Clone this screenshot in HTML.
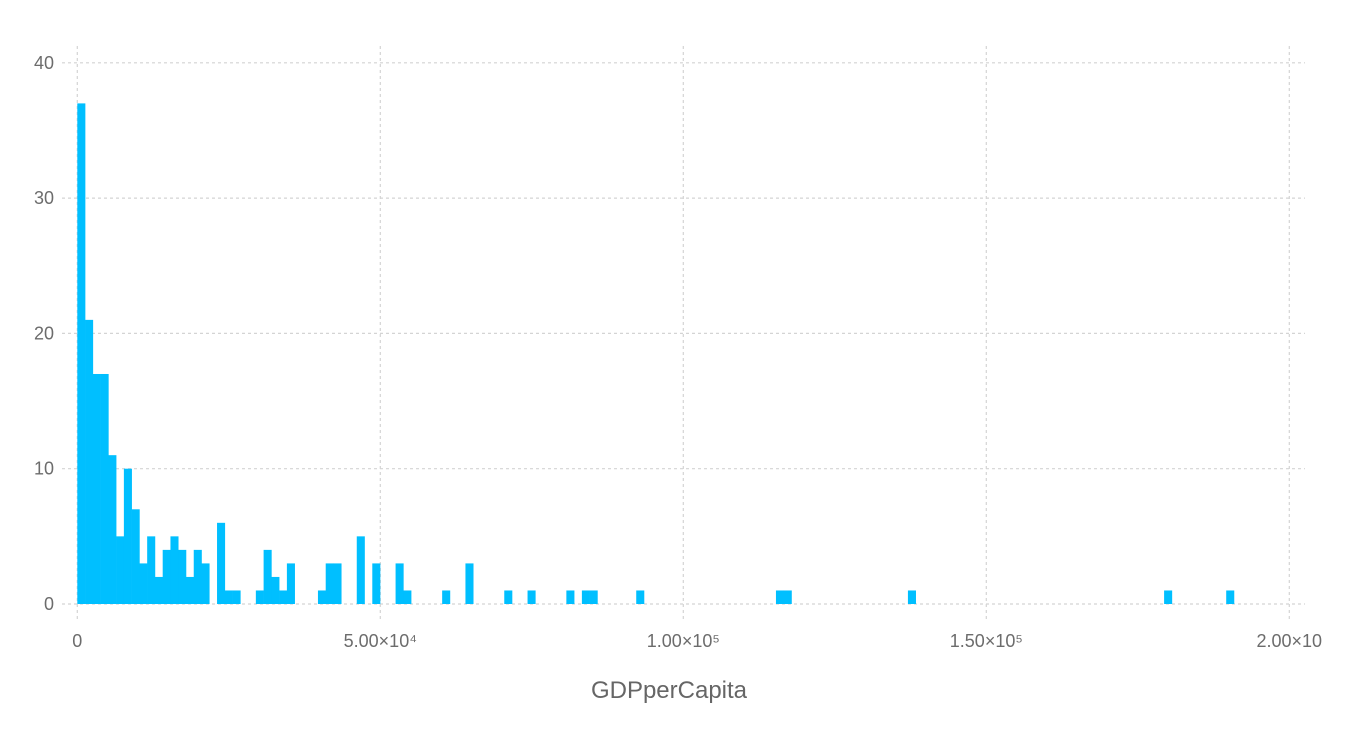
<!DOCTYPE html>
<html><head><meta charset="utf-8">
<style>
html,body{margin:0;padding:0;background:#fff;}
svg{display:block;font-family:"Liberation Sans","DejaVu Sans",sans-serif;}
</style></head>
<body>
<svg id="chart" width="1364" height="736" viewBox="0 0 1364 736" xmlns="http://www.w3.org/2000/svg">
<g id="grid"></g>
<g id="bars"></g>
<g id="axes"></g>
<text x="669" y="698" text-anchor="middle" font-size="24" fill="#666">GDPperCapita</text>
</svg>
<script>
const binWidth = 1281;
const binIndex = [0,1,2,3,4,5,6,7,8,9,10,11,12,13,14,15,16,18,19,20,23,24,25,26,27,31,32,33,36,38,41,42,47,50,55,58,63,65,66,72,90,91,107,140,148];
const binCounts = [37,21,17,17,11,5,10,7,3,5,2,4,5,4,2,4,3,6,1,1,1,4,2,1,3,1,3,3,5,3,3,1,1,3,1,1,1,1,1,1,1,1,1,1,1];
const yTicks = [0,10,20,30,40];
const xTicks = [0,50000,100000,150000,200000];
const xTickLabels = ["0","5.00×10⁴","1.00×10⁵","1.50×10⁵","2.00×10"];

const NS = "http://www.w3.org/2000/svg";
const x = v => 77.3 + v * 606.0 / 100000;
const y = v => 604 - v * 13.53;

const grid = document.getElementById('grid');
const bars = document.getElementById('bars');
const axes = document.getElementById('axes');

yTicks.forEach(t => {
  const l = document.createElementNS(NS,'line');
  
  
  l.setAttribute('x1',62); l.setAttribute('x2',1305);
  l.setAttribute('y1',y(t)); l.setAttribute('y2',y(t));
  l.setAttribute('stroke','#d4d4d4'); l.setAttribute('stroke-width','1.2');
  l.setAttribute('stroke-dasharray','3 3');
  grid.appendChild(l);
  const tx = document.createElementNS(NS,'text');
  
  
  tx.setAttribute('x',54); tx.setAttribute('y',y(t)+6);
  tx.setAttribute('text-anchor','end'); tx.setAttribute('font-size','18');
  tx.setAttribute('fill','#6c6c6c');
  tx.textContent = t;
  axes.appendChild(tx);
});
xTicks.forEach((t,i) => {
  const l = document.createElementNS(NS,'line');
  
  
  l.setAttribute('x1',x(t)); l.setAttribute('x2',x(t));
  l.setAttribute('y1',46); l.setAttribute('y2',620);
  l.setAttribute('stroke','#d4d4d4'); l.setAttribute('stroke-width','1.2');
  l.setAttribute('stroke-dasharray','3 3');
  grid.appendChild(l);
  const tx = document.createElementNS(NS,'text');
  
  
  tx.setAttribute('x',x(t)); tx.setAttribute('y',647);
  tx.setAttribute('text-anchor','middle'); tx.setAttribute('font-size','18');
  tx.setAttribute('fill','#6c6c6c');
  tx.textContent = xTickLabels[i];
  axes.appendChild(tx);
});
binIndex.forEach((k,i) => {
  const x0 = x(k*binWidth), x1 = x((k+1)*binWidth);
  const r = document.createElementNS(NS,'rect');
  
  
  r.setAttribute('x',x0); r.setAttribute('width',x1-x0+0.3);
  r.setAttribute('y',y(binCounts[i])); r.setAttribute('height',y(0)-y(binCounts[i]));
  r.setAttribute('fill','#00bfff');
  bars.appendChild(r);
});
</script>
</body></html>
